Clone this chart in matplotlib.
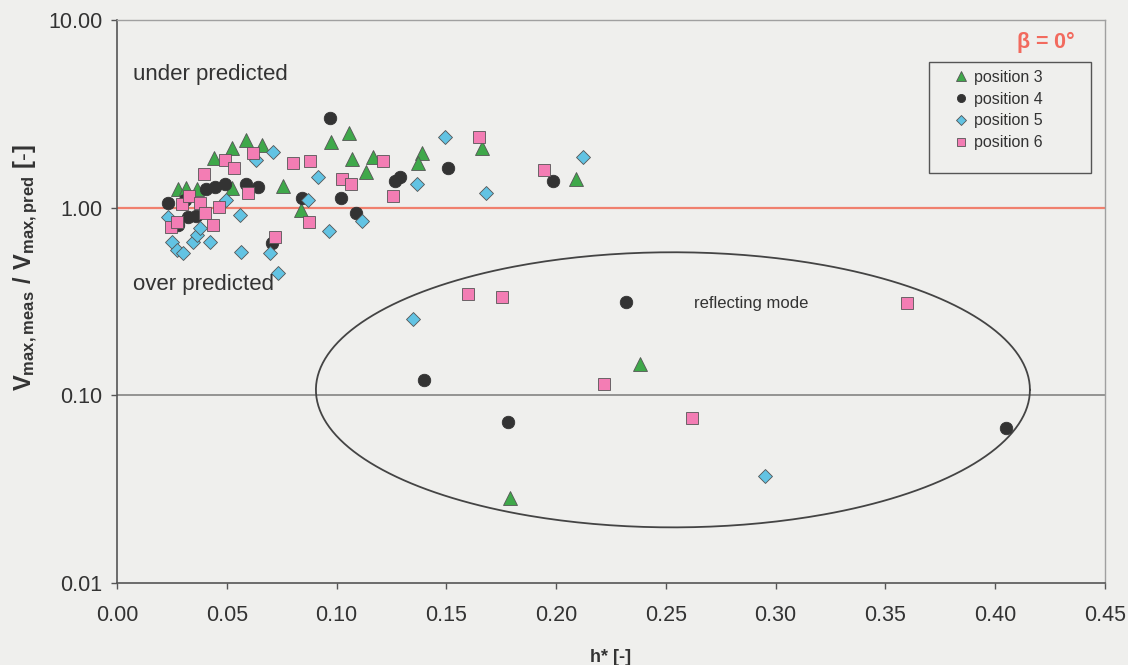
import numpy as np
import matplotlib
matplotlib.use("Agg")
import matplotlib.pyplot as plt
from matplotlib.patches import Rectangle

plt.rcParams['font.family'] = ['Liberation Sans', 'DejaVu Sans']
plt.rcParams['mathtext.fontset'] = 'custom'
plt.rcParams['mathtext.rm'] = 'Liberation Sans'
plt.rcParams['mathtext.bf'] = 'Liberation Sans:bold'

# h* and Vmax,meas/Vmax,pred for each measuring position
pos3_h = [0.0278, 0.0314, 0.0364, 0.0442, 0.0524, 0.0587, 0.0660, 0.0524, 0.0756, 0.0838,
          0.0975, 0.1056, 0.1070, 0.1166, 0.1134, 0.1389, 0.1371, 0.1662, 0.2090, 0.238, 0.179]
pos3_v = [1.26, 1.28, 1.26, 1.85, 2.09, 2.30, 2.17, 1.28, 1.31, 0.976,
          2.25, 2.51, 1.82, 1.87, 1.54, 1.96, 1.74, 2.09, 1.43, 0.146, 0.0285]

pos4_h = [0.0232, 0.0310, 0.0323, 0.0360, 0.0405, 0.0446, 0.0492, 0.0587, 0.0642, 0.0842,
          0.0706, 0.0970, 0.1020, 0.1088, 0.1266, 0.1289, 0.1507, 0.1985, 0.2318, 0.140,
          0.178, 0.405, 0.0278]
pos4_v = [1.06, 1.10, 0.895, 0.906, 1.25, 1.29, 1.33, 1.33, 1.29, 1.13,
          0.651, 3.02, 1.13, 0.94, 1.38, 1.46, 1.63, 1.39, 0.316, 0.121,
          0.0724, 0.0673, 0.812]

pos5_h = [0.0232, 0.0251, 0.0273, 0.0301, 0.0346, 0.0364, 0.0378, 0.0424, 0.0496, 0.0560,
          0.0565, 0.0633, 0.0710, 0.0697, 0.0733, 0.0870, 0.0915, 0.0965, 0.1116, 0.1366,
          0.1494, 0.1680, 0.2122, 0.1348, 0.295]
pos5_v = [0.895, 0.659, 0.597, 0.576, 0.659, 0.718, 0.782, 0.659, 1.10, 0.918,
          0.583, 1.80, 1.99, 0.576, 0.450, 1.10, 1.46, 0.754, 0.852, 1.33,
          2.39, 1.20, 1.87, 0.256, 0.0373]

pos6_h = [0.0246, 0.0273, 0.0296, 0.0328, 0.0378, 0.0396, 0.0401, 0.0437, 0.0464, 0.0492,
          0.0533, 0.0596, 0.0619, 0.0719, 0.0801, 0.0879, 0.0874, 0.1025, 0.1066, 0.1211,
          0.1257, 0.1649, 0.1945, 0.160, 0.1753, 0.2218, 0.2618, 0.3597]
pos6_v = [0.792, 0.842, 1.05, 1.16, 1.06, 1.52, 0.94, 0.812, 1.01, 1.80,
          1.63, 1.19, 1.96, 0.70, 1.72, 1.78, 0.842, 1.43, 1.33, 1.78,
          1.16, 2.39, 1.59, 0.348, 0.336, 0.115, 0.076, 0.312]

series_labels = ['position 3', 'position 4', 'position 5', 'position 6']
x_ticks = [0.00, 0.05, 0.10, 0.15, 0.20, 0.25, 0.30, 0.35, 0.40, 0.45]
y_ticks = [0.01, 0.10, 1.00, 10.00]

# Reflecting-mode region: ellipse in (h*, log10 ratio) space
ell_cx, ell_cy = 0.2532, 0.107
ell_ax, ell_ay = 0.1626, 0.733

bg = '#efefed'
fig = plt.figure(figsize=(11.28, 6.65), dpi=100, facecolor=bg)
ax = fig.add_axes([117/1128, 1 - 583/665, (1105 - 117)/1128, (583 - 20)/665])
ax.set_facecolor(bg)
ax.set_yscale('log')
ax.set_xlim(0, 0.45)
ax.set_ylim(0.01, 10)

ax.axhline(1.0, color='#f0806e', lw=1.6, zorder=1)
ax.axhline(0.1, color='#7a7a7a', lw=1.1, zorder=1)

t = np.linspace(0, 2 * np.pi, 400)
ax.plot(ell_cx + ell_ax * np.cos(t), ell_cy * 10 ** (ell_ay * np.sin(t)),
        color='#444444', lw=1.3, zorder=2)

edge = '#555555'
h3, = ax.plot(pos3_h, pos3_v, linestyle='none', marker='^', ms=10, mfc='#3fa84a', mec=edge,
              mew=0.6, label=series_labels[0], zorder=3)
h4, = ax.plot(pos4_h, pos4_v, linestyle='none', marker='o', ms=9, mfc='#333333', mec='#333333',
              mew=0.6, label=series_labels[1], zorder=3)
h5, = ax.plot(pos5_h, pos5_v, linestyle='none', marker='D', ms=7.5, mfc='#62c3e3', mec=edge,
              mew=0.6, label=series_labels[2], zorder=3)
h6, = ax.plot(pos6_h, pos6_v, linestyle='none', marker='s', ms=9, mfc='#f37db4', mec=edge,
              mew=0.6, label=series_labels[3], zorder=3)

ax.set_xticks(x_ticks)
ax.set_xticklabels([f'{v:.2f}' for v in x_ticks])
ax.set_yticks(y_ticks)
ax.set_yticklabels([f'{v:.2f}' for v in y_ticks])
ax.yaxis.set_minor_locator(matplotlib.ticker.NullLocator())
ax.tick_params(axis='both', direction='out', length=4.5, width=1, color='#555555',
               labelsize=15.5, labelcolor='#333333')
ax.tick_params(axis='x', pad=11)
ax.tick_params(axis='y', pad=6)

for side in ('left', 'bottom'):
    ax.spines[side].set_color('#555555')
    ax.spines[side].set_linewidth(1.2)
for side in ('top', 'right'):
    ax.spines[side].set_color('#a0a0a0')
    ax.spines[side].set_linewidth(1.0)

ax.set_xlabel('h* [-]', fontsize=13, fontweight='bold', color='#333333', labelpad=17)
ax.set_ylabel(r'$\mathbf{V_{max,meas}\ /\ V_{max,pred}\ [\text{-}]}$', fontsize=17,
              color='#333333')
ax.yaxis.set_label_coords((40 - 117) / 988, (583 - 267) / 563)

ax.text(0.0072, 5.1, 'under predicted', fontsize=16, color='#333333', va='center')
ax.text(0.0072, 0.388, 'over predicted', fontsize=16, color='#333333', va='center')
ax.text(0.263, 0.31, 'reflecting mode', fontsize=12, color='#333333', va='center')
ax.text(0.4365, 7.6, r'$\mathbf{\beta}$ = 0°', fontsize=15.5, color='#f26a5e',
        fontweight='bold', ha='right', va='center')

# Legend frame and entries
ax.add_patch(Rectangle(((929 - 117) / 988, (583 - 173) / 563), (1091 - 929) / 988, (173 - 62) / 563,
                       transform=ax.transAxes, facecolor=bg, edgecolor='#555555', lw=1.0,
                       zorder=4))
leg = ax.legend(handles=[h3, h4, h5, h6], loc='upper left',
                bbox_to_anchor=((953 - 117) / 988, (583 - 70) / 563),
                bbox_transform=ax.transAxes, fontsize=11.5, frameon=False,
                handletextpad=0.3, handlelength=1.0, borderpad=0, labelspacing=0.42,
                borderaxespad=0, markerscale=0.65)
leg.set_zorder(5)
for txt in leg.get_texts():
    txt.set_color('#333333')

fig.savefig('out.png', dpi=100, facecolor=bg)
